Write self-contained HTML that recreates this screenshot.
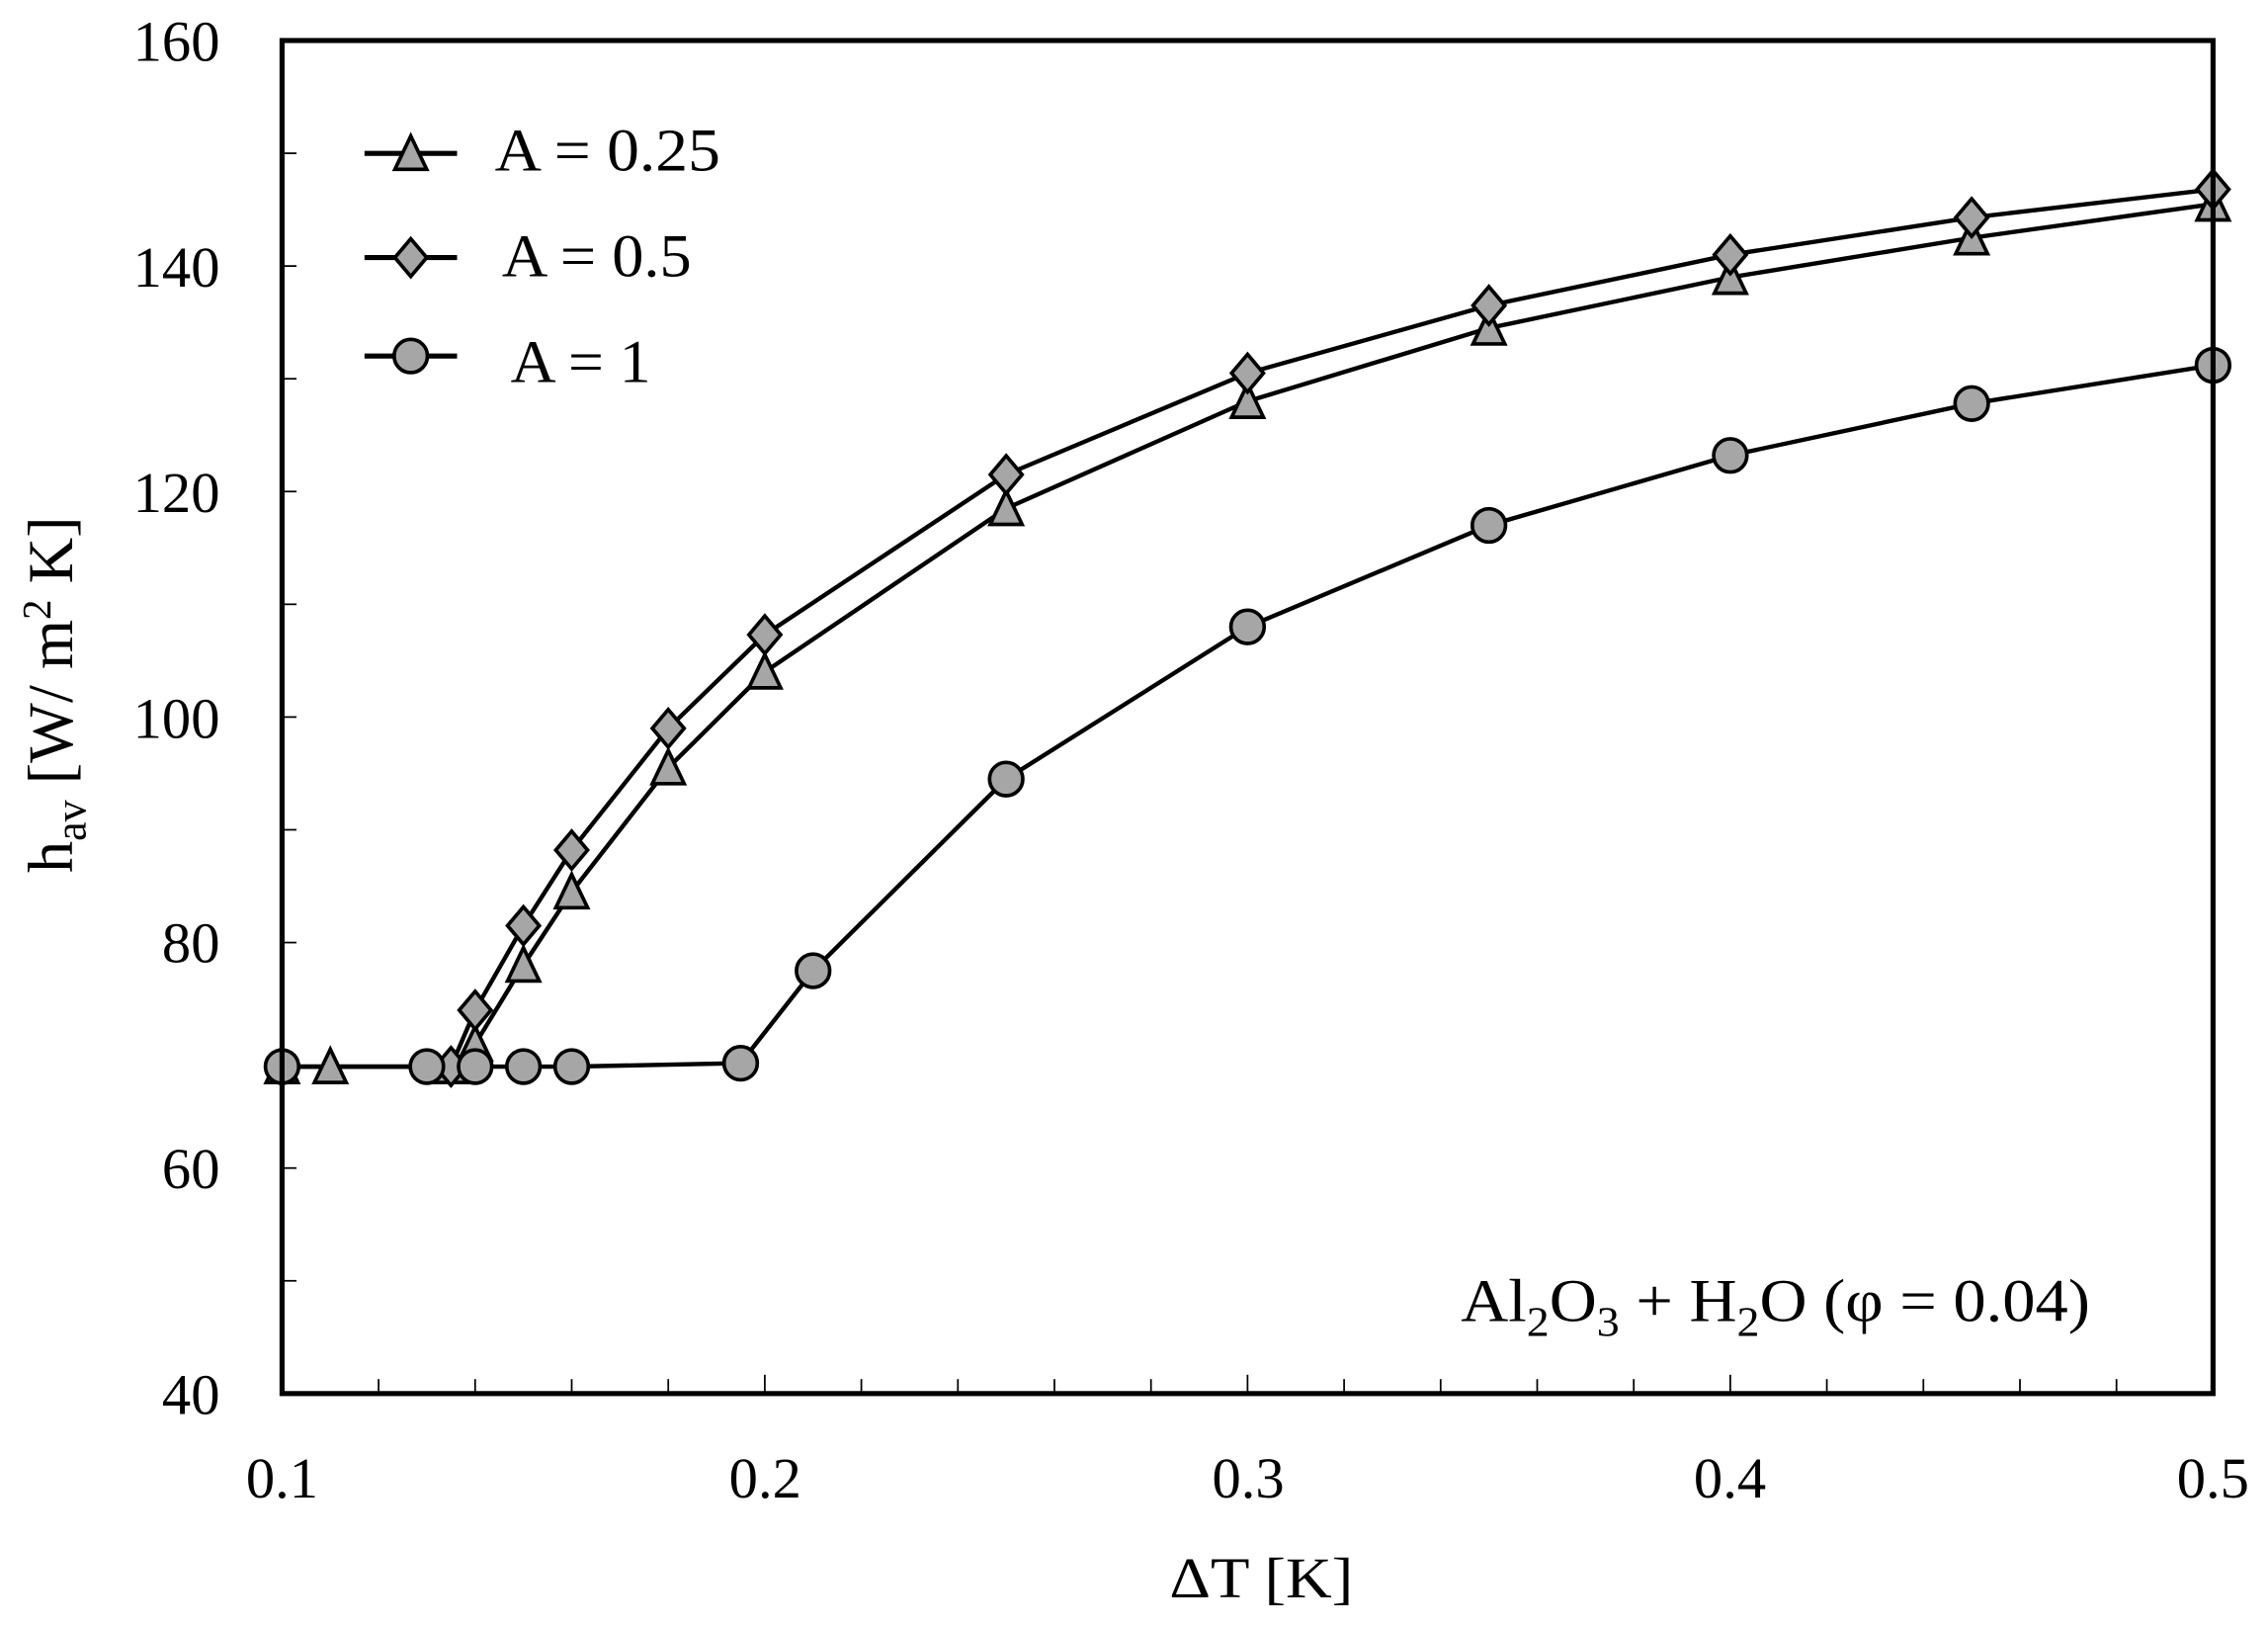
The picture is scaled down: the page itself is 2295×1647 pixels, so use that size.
<!DOCTYPE html>
<html><head><meta charset="utf-8"><style>html,body{margin:0;padding:0;background:#fff}svg{display:block}</style></head>
<body>
<svg width="2295" height="1647" viewBox="0 0 1568 1125" preserveAspectRatio="none" xmlns="http://www.w3.org/2000/svg" font-family="Liberation Serif, serif">
<rect width="1568" height="1125" fill="#fff"/>
<g id="ticks" stroke="#000" stroke-width="1.2"></g>
<g id="series"></g>
<rect x="195" y="28" width="1335" height="935" fill="none" stroke="#000" stroke-width="3.5"/>
<g font-size="40" fill="#000" text-anchor="end">
<text x="152" y="42">160</text><text x="152" y="198">140</text><text x="152" y="354">120</text><text x="152" y="510">100</text><text x="152" y="665">80</text><text x="152" y="821">60</text><text x="152" y="977">40</text>
</g>
<g font-size="40" fill="#000" text-anchor="middle">
<text x="195" y="1035">0.1</text><text x="529" y="1035">0.2</text><text x="863" y="1035">0.3</text><text x="1196" y="1035">0.4</text><text x="1530" y="1035">0.5</text>
<text x="872" y="1104" textLength="127" lengthAdjust="spacingAndGlyphs">ΔT [K]</text>
</g>
<text transform="translate(50,480) rotate(-90)" font-size="44" text-anchor="middle" fill="#000">h<tspan font-size="30" dy="9">av</tspan><tspan dy="-9"> [W/ m</tspan><tspan font-size="28" dy="-15">2</tspan><tspan dy="15"> K]</tspan></text>
<text x="1010" y="913" font-size="42" fill="#000" textLength="435" lengthAdjust="spacingAndGlyphs">Al<tspan font-size="29" dy="10">2</tspan><tspan dy="-10">O</tspan><tspan font-size="29" dy="10">3</tspan><tspan dy="-10"> + H</tspan><tspan font-size="29" dy="10">2</tspan><tspan dy="-10">O (φ = 0.04)</tspan></text>
<g font-size="42" fill="#000">
<text x="342" y="118" textLength="156" lengthAdjust="spacingAndGlyphs">A = 0.25</text><text x="347" y="191" textLength="131" lengthAdjust="spacingAndGlyphs">A = 0.5</text><text x="353" y="264" textLength="97" lengthAdjust="spacingAndGlyphs">A = 1</text>
</g>
<g id="legend"></g>
<script>
var X=function(v){return 195+(v-0.1)*3337.5},Y=function(v){return 963-(v-40)*7.7917};
var ns="http://www.w3.org/2000/svg";
function el(p,t,a){var e=document.createElementNS(ns,t);for(var k in a)e.setAttribute(k,a[k]);p.appendChild(e);return e;}
var tk=document.getElementById('ticks');
for(var v=50;v<160;v+=10)el(tk,'line',{x1:195,x2:205,y1:Y(v),y2:Y(v)});
for(var i=1;i<20;i++){var x=X(0.1+i*0.02);el(tk,'line',{x1:x,x2:x,y1:963,y2:(i%5==0?950:953)});}
function mark(g,t,x,y){var a={fill:'#a6a6a6',stroke:'#000','stroke-width':2.5};
 if(t==0){a.points=(x-11)+','+(y+11)+' '+x+','+(y-12)+' '+(x+11)+','+(y+11);el(g,'polygon',a);}
 else if(t==1){a.points=(x-11)+','+y+' '+x+','+(y-13)+' '+(x+11)+','+y+' '+x+','+(y+13);el(g,'polygon',a);}
 else{a.cx=x;a.cy=y;a.r=11.5;el(g,'circle',a);}}
var S=[
[[0.1,69],[0.11,69],[0.135,69],[0.14,71],[0.15,78],[0.16,84.5],[0.18,95.5],[0.2,104],[0.25,118.5],[0.3,128],[0.35,134.5],[0.4,139],[0.45,142.5],[0.5,145.5]],
[[0.1,69],[0.135,69],[0.14,74],[0.15,81.5],[0.16,88.2],[0.18,99],[0.2,107.3],[0.25,121.5],[0.3,130.5],[0.35,136.5],[0.4,141],[0.45,144.3],[0.5,146.8]],
[[0.1,69],[0.13,69],[0.14,69],[0.15,69],[0.16,69],[0.195,69.3],[0.21,77.5],[0.25,94.5],[0.3,108],[0.35,117],[0.4,123.2],[0.45,127.8],[0.5,131.2]]];
var sg=document.getElementById('series');
S.forEach(function(s){el(sg,'polyline',{points:s.map(function(p){return X(p[0])+','+Y(p[1])}).join(' '),fill:'none',stroke:'#000','stroke-width':3});});
S.forEach(function(s,t){s.forEach(function(p){mark(sg,t,X(p[0]),Y(p[1]));});});
var lg=document.getElementById('legend');
[106,178,246].forEach(function(y,t){el(lg,'line',{x1:252,x2:316,y1:y,y2:y,stroke:'#000','stroke-width':3.5});mark(lg,t,284,y);});
</script>
</svg>
</body></html>
